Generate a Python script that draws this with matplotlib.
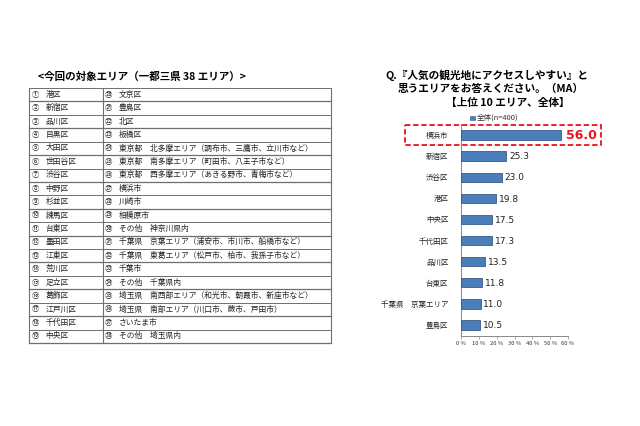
import matplotlib
matplotlib.use("Agg")
import matplotlib.pyplot as plt
from matplotlib.patches import Rectangle

plt.rcParams['font.family'] = ['Noto Sans CJK JP', 'DejaVu Sans']

# ---- data ----
table_title = "<今回の対象エリア（一都三県 38 エリア）>"
left_nums = ["①", "②", "③", "④", "⑤", "⑥", "⑦", "⑧", "⑨", "⑩",
             "⑪", "⑫", "⑬", "⑭", "⑮", "⑯", "⑰", "⑱", "⑲"]
left_areas = ["港区", "新宿区", "品川区", "目黒区", "大田区", "世田谷区", "渋谷区",
              "中野区", "杉並区", "練馬区", "台東区", "墨田区", "江東区", "荒川区",
              "足立区", "葛飾区", "江戸川区", "千代田区", "中央区"]
right_nums = ["⑳", "㉑", "㉒", "㉓", "㉔", "㉕", "㉖", "㉗", "㉘", "㉙",
              "㉚", "㉛", "㉜", "㉝", "㉞", "㉟", "㊱", "㊲", "㊳"]
right_areas = ["文京区", "豊島区", "北区", "板橋区",
               "東京都　北多摩エリア（調布市、三鷹市、立川市など）",
               "東京都　南多摩エリア（町田市、八王子市など）",
               "東京都　西多摩エリア（あきる野市、青梅市など）",
               "横浜市", "川崎市", "相模原市", "その他　神奈川県内",
               "千葉県　京葉エリア（浦安市、市川市、船橋市など）",
               "千葉県　東葛エリア（松戸市、柏市、我孫子市など）",
               "千葉市", "その他　千葉県内",
               "埼玉県　南西部エリア（和光市、朝霞市、新座市など）",
               "埼玉県　南部エリア（川口市、蕨市、戸田市）",
               "さいたま市", "その他　埼玉県内"]

chart_title = ["Q.『人気の観光地にアクセスしやすい』と",
               "思うエリアをお答えください。（MA）",
               "【上位 10 エリア、全体】"]
series_name = "全体(n=400)"
categories = ["横浜市", "新宿区", "渋谷区", "港区", "中央区", "千代田区",
              "品川区", "台東区", "千葉県　京葉エリア", "豊島区"]
values = [56.0, 25.3, 23.0, 19.8, 17.5, 17.3, 13.5, 11.8, 11.0, 10.5]
xticks = [0, 10, 20, 30, 40, 50, 60]
xtick_labels = ["0 %", "10 %", "20 %", "30 %", "40 %", "50 %", "60 %"]

W, H = 640, 426
fig = plt.figure(figsize=(W / 100, H / 100), dpi=100)
fig.patch.set_facecolor("white")

# overlay axes in pixel coordinates (for table & decorations)
ov = fig.add_axes([0, 0, 1, 1])
ov.set_xlim(0, W)
ov.set_ylim(H, 0)
ov.axis("off")

# ---- left: table ----
ov.text(38, 76, table_title, fontsize=7.6, fontweight="bold", ha="left", va="center")
tx0, tx1, tx2 = 29, 103, 331
ty0, ty1 = 88, 343
n = len(left_areas)
rh = (ty1 - ty0) / n
for i in range(n + 1):
    y = ty0 + i * rh
    ov.plot([tx0, tx2], [y, y], color="#6e6e6e", lw=0.9 if i % 2 else 0.7)
for x in (tx0, tx1, tx2):
    ov.plot([x, x], [ty0, ty1], color="#6e6e6e", lw=0.8)
for i in range(n):
    yc = ty0 + (i + 0.5) * rh
    ov.text(35, yc, left_nums[i], fontsize=5.3, ha="center", va="center", color="#222222")
    ov.text(45.5, yc, left_areas[i], fontsize=5.6, ha="left", va="center", color="#222222")
    ov.text(108, yc, right_nums[i], fontsize=5.3, ha="center", va="center", color="#222222")
    ov.text(119, yc, right_areas[i], fontsize=5.6, ha="left", va="center", color="#222222")

# ---- right: chart title ----
ov.text(385, 75, chart_title[0], fontsize=7.7, fontweight="bold", ha="left", va="center")
ov.text(398, 88.5, chart_title[1], fontsize=7.7, fontweight="bold", ha="left", va="center")
ov.text(446, 102.5, chart_title[2], fontsize=7.7, fontweight="bold", ha="left", va="center")

# legend
ov.add_patch(Rectangle((470, 115.5), 4.5, 4.5, facecolor="#4a7ebb", edgecolor="#385d8a", lw=0.4))
ov.text(477, 118, series_name, fontsize=5.4, ha="left", va="center", color="#333333")

# ---- bar chart ----
left_px, right_px = 461, 568
top_px, bot_px = 124.5, 335.5
ax = fig.add_axes([left_px / W, 1 - bot_px / H, (right_px - left_px) / W, (bot_px - top_px) / H])
ax.set_facecolor("none")
ypos = list(range(len(categories)))
ax.barh(ypos, values, height=0.45, color="#4a7ebb", edgecolor="#385d8a", linewidth=0.6, zorder=3)
ax.set_xlim(0, 60)
ax.set_ylim(len(categories) - 0.5, -0.5)
ax.set_yticks(ypos)
ax.set_yticklabels(categories, fontsize=5.4, color="#222222")
ax.tick_params(axis="y", length=0, pad=9)
ax.set_xticks(xticks)
ax.set_xticklabels(xtick_labels, fontsize=4.2, color="#333333")
ax.tick_params(axis="x", length=2, width=0.5, color="#888888", pad=2)
for s in ("top", "right"):
    ax.spines[s].set_visible(False)
for s in ("left", "bottom"):
    ax.spines[s].set_color("#888888")
    ax.spines[s].set_linewidth(0.7)

for i, v in enumerate(values):
    if i == 0:
        ax.annotate(f"{v:.1f}", (v, i), xytext=(3.5, 0), textcoords="offset points",
                    fontsize=9, fontweight="bold", color="#e8141e", va="center", ha="left",
                    annotation_clip=False, family="DejaVu Sans")
    else:
        ax.annotate(f"{v:.1f}", (v, i), xytext=(2, -0.5), textcoords="offset points",
                    fontsize=6.5, color="#222222", va="center", ha="left",
                    annotation_clip=False, family="DejaVu Sans")

# red dashed highlight box
ov.add_patch(Rectangle((405, 125), 196, 19.5, fill=False, edgecolor="#e8141e",
                       lw=1.3, linestyle=(0, (3, 1.5))))

fig.savefig("out.png", dpi=100, facecolor="white")
